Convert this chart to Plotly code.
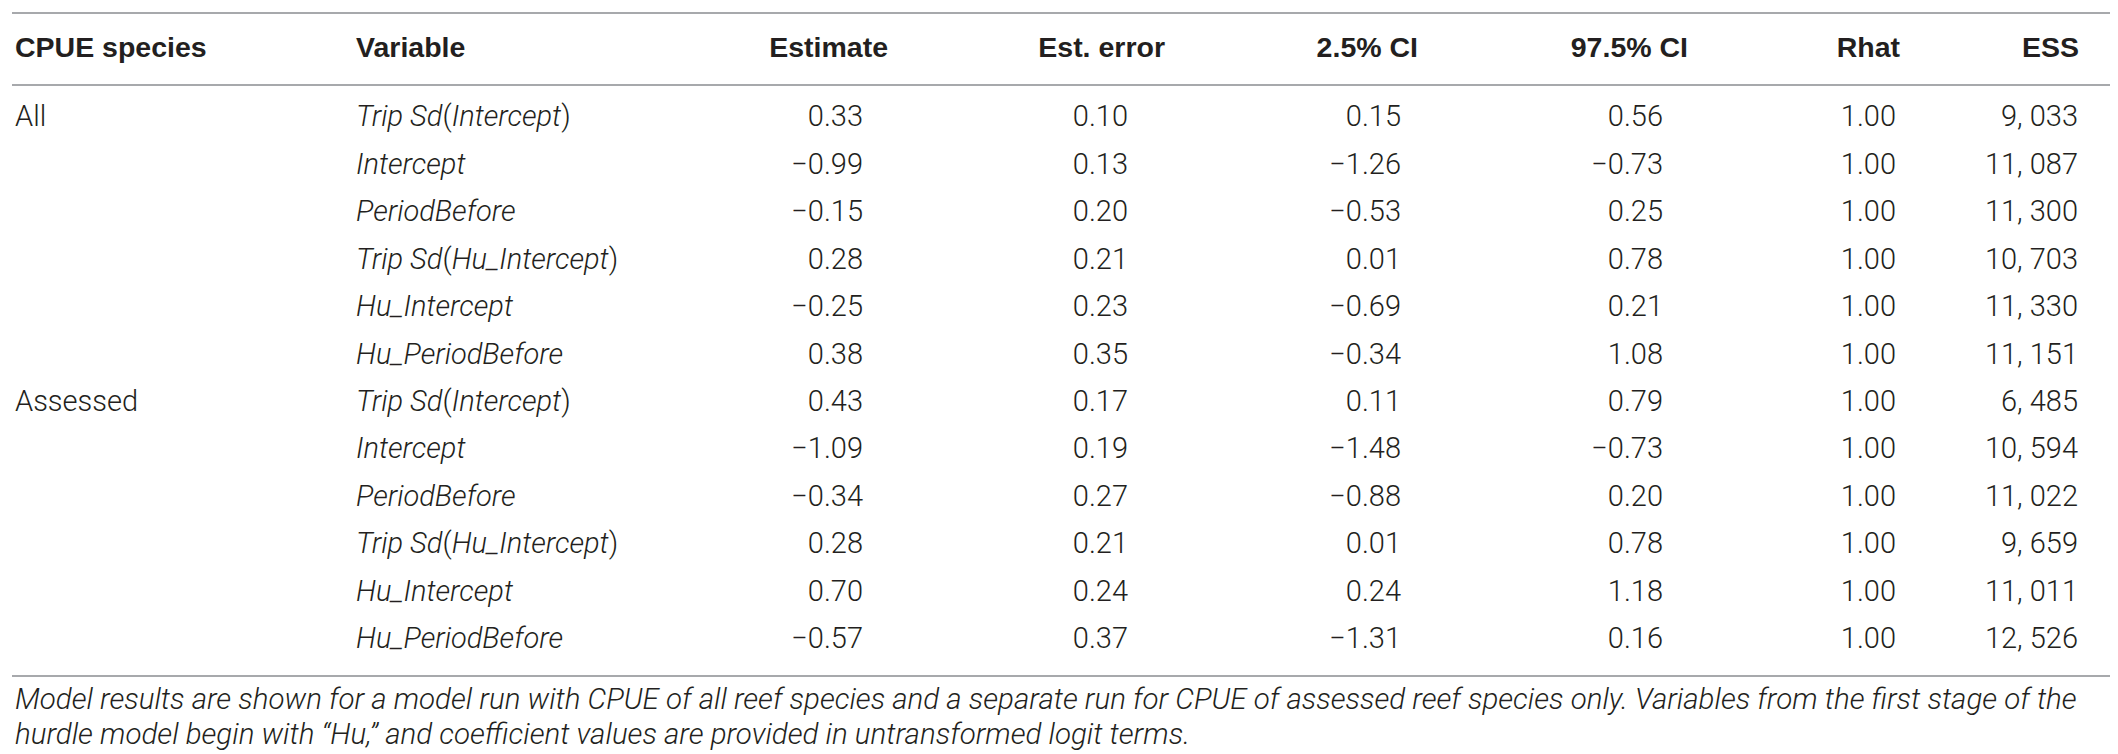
import plotly.graph_objects as go

# table content
headers = ["CPUE species", "Variable", "Estimate", "Est. error", "2.5% CI", "97.5% CI", "Rhat", "ESS"]
species = ["All", "", "", "", "", "", "Assessed", "", "", "", "", ""]
variables = [
    "<i>Trip Sd</i>(<i>Intercept</i>)", "<i>Intercept</i>", "<i>PeriodBefore</i>",
    "<i>Trip Sd</i>(<i>Hu_Intercept</i>)", "<i>Hu_Intercept</i>", "<i>Hu_PeriodBefore</i>",
    "<i>Trip Sd</i>(<i>Intercept</i>)", "<i>Intercept</i>", "<i>PeriodBefore</i>",
    "<i>Trip Sd</i>(<i>Hu_Intercept</i>)", "<i>Hu_Intercept</i>", "<i>Hu_PeriodBefore</i>",
]
estimate = [0.33, -0.99, -0.15, 0.28, -0.25, 0.38, 0.43, -1.09, -0.34, 0.28, 0.70, -0.57]
est_error = [0.10, 0.13, 0.20, 0.21, 0.23, 0.35, 0.17, 0.19, 0.27, 0.21, 0.24, 0.37]
ci_low = [0.15, -1.26, -0.53, 0.01, -0.69, -0.34, 0.11, -1.48, -0.88, 0.01, 0.24, -1.31]
ci_high = [0.56, -0.73, 0.25, 0.78, 0.21, 1.08, 0.79, -0.73, 0.20, 0.78, 1.18, 0.16]
rhat = [1.00] * 12
ess = [9033, 11087, 11300, 10703, 11330, 11151, 6485, 10594, 11022, 9659, 11011, 12526]
caption = [
    "Model results are shown for a model run with CPUE of all reef species and a separate run for CPUE of assessed reef species only. Variables from the first stage of the",
    "hurdle model begin with \u201cHu,\u201d and coefficient values are provided in untransformed logit terms.",
]


def fmt(v):
    s = f"{abs(v):.2f}"
    return ("\u2212" + s) if v < 0 else s


def fmt_ess(v):
    return f"{v:,}".replace(",", ", ")


W, H = 2118, 754
ROW0_PX, ROW_PX = 111, 47.45
TEXT = "#231f20"
RULE = "#a7a9ac"
BODY = dict(family="Roboto", size=29, color=TEXT, weight=300)
HEAD = dict(family="Liberation Sans", size=28.5, color=TEXT, weight=700)


def px_to_row(py):
    return 1 + (py - ROW0_PX) / ROW_PX


rows = list(range(1, len(variables) + 1))
head_y = px_to_row(42)

# (column texts, header x, value x, side)
columns = [
    (species, 7, 7, "left"),
    (variables, 348, 348, "left"),
    ([fmt(v) for v in estimate], 880, 855, "right"),
    ([fmt(v) for v in est_error], 1157, 1120, "right"),
    ([fmt(v) for v in ci_low], 1410, 1393, "right"),
    ([fmt(v) for v in ci_high], 1680, 1655, "right"),
    ([fmt(v) for v in rhat], 1892, 1888, "right"),
    ([fmt_ess(v) for v in ess], 2071, 2070, "right"),
]

fig = go.Figure()
for (vals, hx, vx, side), head in zip(columns, headers):
    pos = "middle right" if side == "left" else "middle left"
    fig.add_trace(go.Scatter(x=[hx], y=[head_y], mode="text", text=[f"<b>{head}</b>"],
                             textposition=pos, textfont=HEAD, hoverinfo="skip", showlegend=False))
    fig.add_trace(go.Scatter(x=[vx] * len(vals), y=rows, mode="text", text=vals,
                             textposition=pos, textfont=BODY, hoverinfo="skip", showlegend=False))

fig.add_trace(go.Scatter(x=[7, 7], y=[px_to_row(694), px_to_row(729)], mode="text", text=caption,
                         textposition="middle right",
                         textfont=dict(family="Roboto", size=29.5, color=TEXT, weight=300, style="italic"),
                         hoverinfo="skip", showlegend=False))

for py in [5, 77, 668]:
    fig.add_shape(type="line", xref="x", yref="y", x0=4, x1=2111, y0=px_to_row(py), y1=px_to_row(py),
                  line=dict(color=RULE, width=2))

fig.update_xaxes(range=[0, W], visible=False, fixedrange=True)
fig.update_yaxes(range=[px_to_row(H), px_to_row(0)], visible=False, fixedrange=True)
fig.update_layout(width=W, height=H, margin=dict(l=0, r=0, t=0, b=0),
                  plot_bgcolor="white", paper_bgcolor="white")
fig.write_html("out.html")
